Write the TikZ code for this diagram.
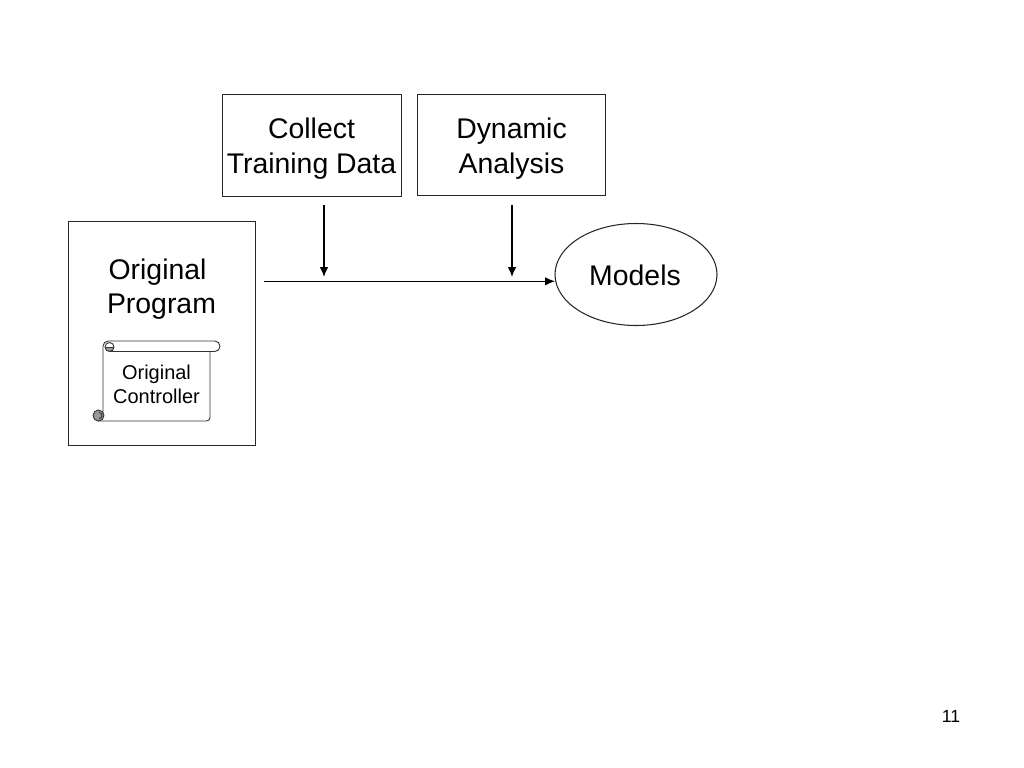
\documentclass[tikz,border=0pt]{standalone}
\usepackage{fontspec}
\setmainfont{Liberation Sans}
\usetikzlibrary{arrows.meta,shapes.geometric}
\tikzset{
    boxnode/.style={draw=black!85, line width=.75pt, inner sep=0pt},
    bigtext/.style={font=\fontsize{20.2}{24.5}\selectfont, align=center},
    smalltext/.style={font=\fontsize{14.2}{17}\selectfont, align=center},
    scrollline/.style={draw=black!80, line width=.65pt},
    flow/.style={-{Latex[length=7pt,width=6pt]}, line width=.95pt}
}
\begin{document}
\begin{tikzpicture}[x=.025cm, y=-.025cm]
\useasboundingbox (0,0) rectangle (1024,768);

\node (collect) [boxnode, minimum width=179*.025cm, minimum height=102*.025cm] at (312,145.5) {};
\node (collecttext) [bigtext] at (311.5,148.5) {Collect\\Training Data};
\node (dynamic) [boxnode, minimum width=188*.025cm, minimum height=101*.025cm] at (511.5,145) {};
\node (dynamictext) [bigtext] at (511.5,148.5) {Dynamic\\Analysis};
\node (program) [boxnode, minimum width=187*.025cm, minimum height=224*.025cm] at (162,333.5) {};
\node (programtext) [bigtext] at (161.5,289) {Original\kern5.6pt\\Program};
\node (models) [boxnode, ellipse, minimum width=162*.025cm, minimum height=102*.025cm] at (636,274.5) {};
\node (modelstext) [bigtext] at (635,275) {Models};

% free ends of the connectors
\coordinate (collectout) at (324,205);
\coordinate (collectin) at (324,277);
\coordinate (dynamicout) at (512,205);
\coordinate (dynamicin) at (512,277);
\coordinate (programout) at (264,281.3);
\coordinate (modelsin) at (555,281.3);

\draw[flow] (collectout) -- (collectin);
\draw[flow] (dynamicout) -- (dynamicin);
\draw[flow] (programout) -- (modelsin);

% scroll
\draw[scrollline, rounded corners=3.7pt] (103,416) -- (103,341) -- (220,341) -- (220,351.5) -- (109,351.5);
\draw[scrollline, rounded corners=2.5pt] (210,351.5) -- (210,421) -- (98,421);
\fill[black!40] (105,347) arc[start angle=180, end angle=0, radius=4.5] -- cycle;
\draw[scrollline] (109.5,347) circle[radius=4.5];
\draw[scrollline] (105,347) -- (114,347);
\draw[scrollline, fill=black!40] (98.5,415.5) circle[radius=5.5];
\draw[scrollline] (99,412.5) arc[start angle=270, end angle=450, radius=3];
\node (scrolltext) [smalltext] at (156.5,384.5) {Original\\Controller};

\node (pagenum) [font=\fontsize{12.5}{15}\selectfont] at (951,716) {11};
\end{tikzpicture}
\end{document}
